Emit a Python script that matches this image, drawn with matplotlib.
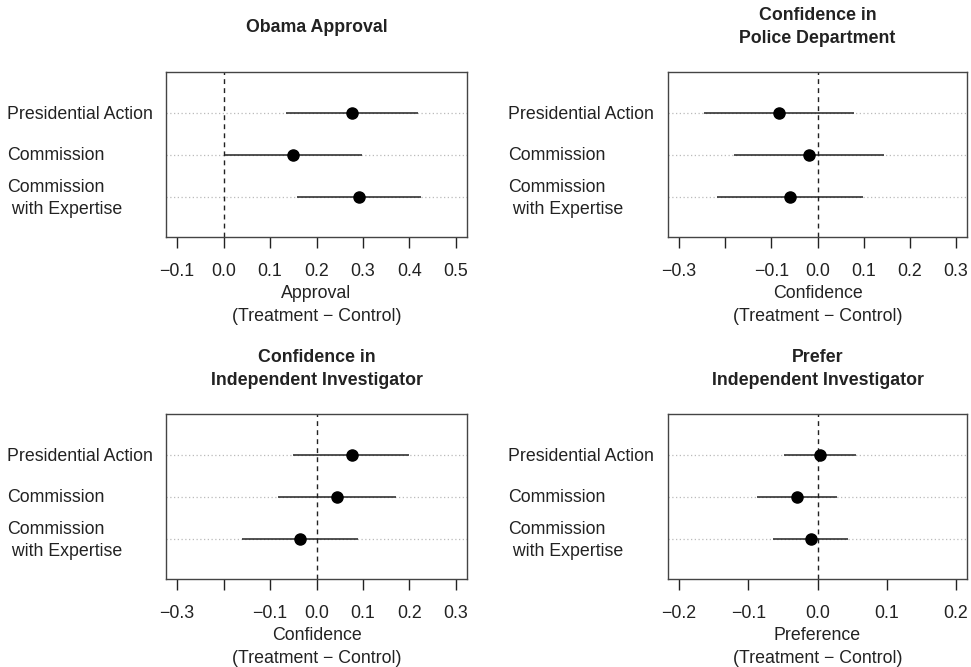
import matplotlib
matplotlib.use("Agg")
import matplotlib.pyplot as plt
from matplotlib.transforms import blended_transform_factory

plt.rcParams['font.family'] = ['Liberation Sans', 'DejaVu Sans']

W, H = 971, 667

conditions = ["Presidential Action", "Commission", "Commission\n with Expertise"]
row_pos = [3, 2, 1]

titles = ["Obama Approval",
          "Confidence in\nPolice Department",
          "Confidence in\nIndependent Investigator",
          "Prefer\nIndependent Investigator"]
xlabels = ["Approval\n(Treatment \u2212 Control)",
           "Confidence\n(Treatment \u2212 Control)",
           "Confidence\n(Treatment \u2212 Control)",
           "Preference\n(Treatment \u2212 Control)"]

# estimates and 95% CIs (rows: Presidential Action, Commission, Commission with Expertise)
est_approval = [0.277, 0.150, 0.291]
lo_approval = [0.135, 0.004, 0.158]
hi_approval = [0.418, 0.297, 0.425]

est_police = [-0.083, -0.019, -0.060]
lo_police = [-0.246, -0.181, -0.217]
hi_police = [0.080, 0.145, 0.098]

est_indep = [0.076, 0.045, -0.035]
lo_indep = [-0.050, -0.082, -0.160]
hi_indep = [0.200, 0.171, 0.089]

est_prefer = [0.004, -0.030, -0.010]
lo_prefer = [-0.049, -0.088, -0.064]
hi_prefer = [0.055, 0.028, 0.044]

ticks_approval = [-0.1, 0.0, 0.1, 0.2, 0.3, 0.4, 0.5]
ticklabels_approval = ["\u22120.1", "0.0", "0.1", "0.2", "0.3", "0.4", "0.5"]
ticks_conf = [-0.3, -0.2, -0.1, 0.0, 0.1, 0.2, 0.3]
ticklabels_conf = ["\u22120.3", "", "\u22120.1", "0.0", "0.1", "0.2", "0.3"]
ticks_pref = [-0.2, -0.1, 0.0, 0.1, 0.2]
ticklabels_pref = ["\u22120.2", "\u22120.1", "0.0", "0.1", "0.2"]

panels = [
    (est_approval, lo_approval, hi_approval, ticks_approval, ticklabels_approval, (-0.1, 0.5)),
    (est_police, lo_police, hi_police, ticks_conf, ticklabels_conf, (-0.3, 0.3)),
    (est_indep, lo_indep, hi_indep, ticks_conf, ticklabels_conf, (-0.3, 0.3)),
    (est_prefer, lo_prefer, hi_prefer, ticks_pref, ticklabels_pref, (-0.2, 0.2)),
]

# box pixel positions: (left, right, top, bottom)
boxes = [(166, 467, 72, 237), (668, 967, 72, 237),
         (166, 467, 414, 579), (668, 967, 414, 579)]
label_x = [7, 508, 7, 508]

fig = plt.figure(figsize=(W / 100, H / 100), dpi=100)
FS = 12.8
col = "#222222"

for i, (est, lo, hi, ticks, tlabels, lim) in enumerate(panels):
    l, r, t, b = boxes[i]
    ax = fig.add_axes([l / W, 1 - b / H, (r - l) / W, (b - t) / H])
    ext = 0.04 * (lim[1] - lim[0])
    ax.set_xlim(lim[0] - ext, lim[1] + ext)
    ax.set_ylim(0.03, 3.99)
    for y in row_pos:
        ax.axhline(y, color="#bbbbbb", lw=0.9, ls=(0, (1, 2)), zorder=1)
    ax.axvline(0, color=col, lw=1.0, ls=(0, (3.5, 3)), zorder=2)
    for y, e, a, c in zip(row_pos, est, lo, hi):
        ax.plot([a, c], [y, y], color=col, lw=1.1, solid_capstyle="butt", zorder=3)
        ax.plot([e], [y], "o", color="black", ms=8, zorder=4)
    ax.set_xticks(ticks)
    ax.set_xticklabels(tlabels, fontsize=FS, color=col)
    ax.tick_params(axis="x", length=8, width=1, color=col, pad=11)
    ax.set_yticks([])
    for s in ax.spines.values():
        s.set_color("#444444")
        s.set_linewidth(1.0)
    trans = blended_transform_factory(fig.transFigure, ax.transData)
    for y, name in zip(row_pos, conditions):
        dy = -0.02 if "\n" not in name else -0.04
        ax.text(label_x[i] / W, y + dy, name, transform=trans, ha="left", va="center",
                fontsize=FS, color=col, linespacing=1.38)
    cx = (l + r) / 2 / W
    fig.text(cx, 1 - (t - 45) / H, titles[i], ha="center", va="center", fontsize=FS,
             fontweight="bold", color=col, linespacing=1.5)
    fig.text(cx, 1 - (b + 68) / H, xlabels[i], ha="center", va="center", fontsize=FS,
             color=col, linespacing=1.4)

fig.savefig("out.png", dpi=100, facecolor="white")
